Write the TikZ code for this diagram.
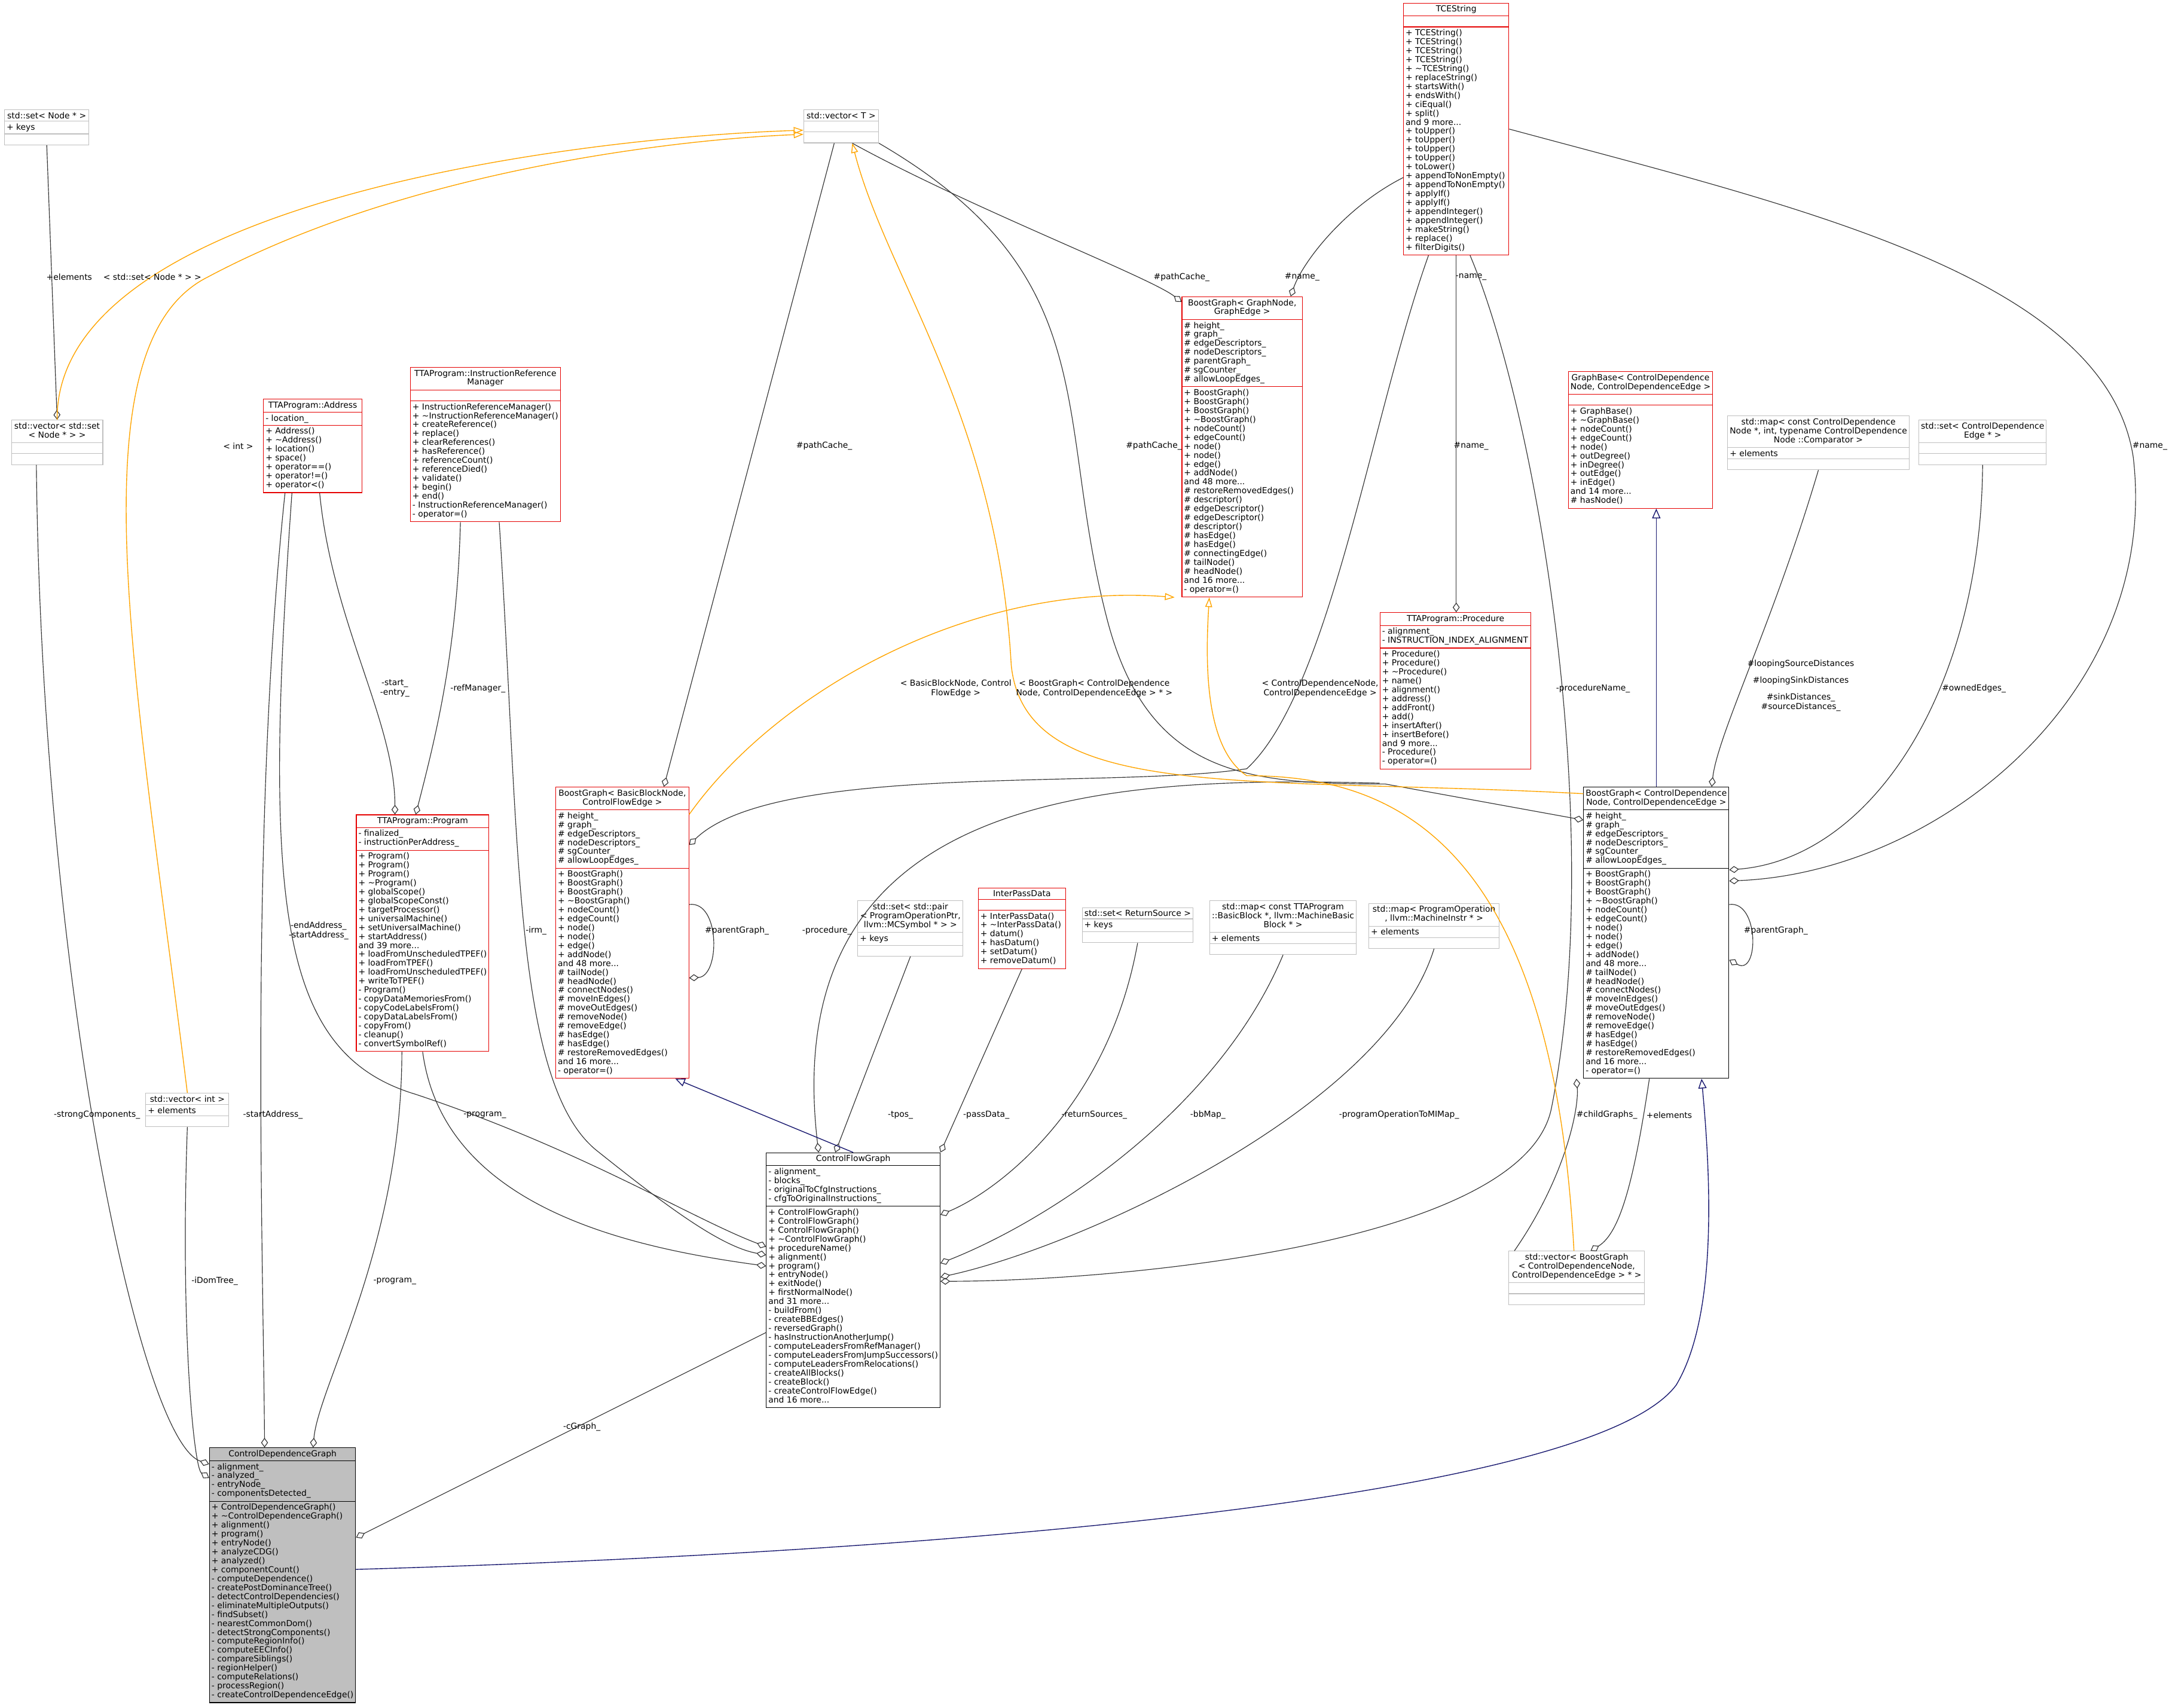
\documentclass[tikz,border=0pt]{standalone}
\usepackage{fontspec}
\setmainfont{DejaVu Sans}
\usetikzlibrary{shapes.multipart,arrows.meta}
\definecolor{dred}{HTML}{E50000}
\definecolor{dgray}{HTML}{BFBFBF}
\definecolor{dorange}{HTML}{FFA500}
\definecolor{dblue}{HTML}{191970}
\newcommand\Ls[1]{\begin{tabular}{@{}l@{}}#1\end{tabular}}
\newcommand\Cs[1]{\begin{tabular}{@{}c@{}}#1\end{tabular}}
\newcommand\tl{\textasciitilde}
\renewcommand\arraystretch{0.9}
\tikzset{
 cls/.style={rectangle split,rectangle split parts=3,draw=dred,fill=white,anchor=north west,
   font=\fontsize{6}{7}\selectfont,inner sep=1.5pt,rectangle split part align={center,left,left},line width=0.5pt},
 gcls/.style={cls,draw=dgray},
 bcls/.style={cls,draw=black},
 lbl/.style={font=\fontsize{6}{7}\selectfont,inner sep=1pt,align=center},
 agg/.style={draw=black!80,line width=0.5pt,-{Diamond[open,length=7pt,width=5pt]}},
 tmpl/.style={draw=dorange,line width=0.6pt,-{Triangle[open,length=7pt,width=5pt]}},
 inh/.style={draw=dblue,line width=0.6pt,-{Triangle[open,length=7pt,width=6pt]}},
}
\newcommand\E{\phantom{X}}
\begin{document}
\begin{tikzpicture}[x=1pt,y=-1pt]
\useasboundingbox[fill=white] (0,0) rectangle (1568,1233);

\node[cls,minimum width=76pt] (tce) at (1013,2) {TCEString\nodepart{two}\E\nodepart{three}\Ls{+ TCEString()\\+ TCEString()\\+ TCEString()\\+ TCEString()\\+ \tl TCEString()\\+ replaceString()\\+ startsWith()\\+ endsWith()\\+ ciEqual()\\+ split()\\and 9 more...\\+ toUpper()\\+ toUpper()\\+ toUpper()\\+ toUpper()\\+ toLower()\\+ appendToNonEmpty()\\+ appendToNonEmpty()\\+ applyIf()\\+ applyIf()\\+ appendInteger()\\+ appendInteger()\\+ makeString()\\+ replace()\\+ filterDigits()}};

\node[gcls,minimum width=54pt] (vt) at (580,79) {std::vector< T >\nodepart{two}\E\nodepart{three}\E};
\node[gcls,minimum width=61pt] (setn) at (3,79) {std::set< Node * >\nodepart{two}+ keys\nodepart{three}\E};
\node[gcls,minimum width=66pt] (vset) at (8,303) {\Cs{std::vector< std::set\\< Node * > >}\nodepart{two}\E\nodepart{three}\E};
\node[cls,minimum width=71pt] (addr) at (190,288) {TTAProgram::Address\nodepart{two}- location\_\nodepart{three}\Ls{+ Address()\\+ \tl Address()\\+ location()\\+ space()\\+ operator==()\\+ operator!=()\\+ operator<()}};
\node[cls,minimum width=107pt] (irm) at (296,265) {\Cs{TTAProgram::InstructionReference\\Manager}\nodepart{two}\E\nodepart{three}\Ls{+ InstructionReferenceManager()\\+ \tl InstructionReferenceManager()\\+ createReference()\\+ replace()\\+ clearReferences()\\+ hasReference()\\+ referenceCount()\\+ referenceDied()\\+ validate()\\+ begin()\\+ end()\\- InstructionReferenceManager()\\- operator=()}};
\node[cls,minimum width=87pt] (bgg) at (853,214) {\Cs{BoostGraph< GraphNode,\\GraphEdge >}\nodepart{two}\Ls{\# height\_\\\# graph\_\\\# edgeDescriptors\_\\\# nodeDescriptors\_\\\# parentGraph\_\\\# sgCounter\_\\\# allowLoopEdges\_}\nodepart{three}\Ls{+ BoostGraph()\\+ BoostGraph()\\+ BoostGraph()\\+ \tl BoostGraph()\\+ nodeCount()\\+ edgeCount()\\+ node()\\+ node()\\+ edge()\\+ addNode()\\and 48 more...\\\# restoreRemovedEdges()\\\# descriptor()\\\# edgeDescriptor()\\\# edgeDescriptor()\\\# descriptor()\\\# hasEdge()\\\# hasEdge()\\\# connectingEdge()\\\# tailNode()\\\# headNode()\\and 16 more...\\- operator=()}};
\node[cls,minimum width=103pt] (gb) at (1132,268) {\Cs{GraphBase< ControlDependence\\Node, ControlDependenceEdge >}\nodepart{two}\E\nodepart{three}\Ls{+ GraphBase()\\+ \tl GraphBase()\\+ nodeCount()\\+ edgeCount()\\+ node()\\+ outDegree()\\+ inDegree()\\+ outEdge()\\+ inEdge()\\and 14 more...\\\# hasNode()}};
\node[gcls,minimum width=127pt] (mapi) at (1247,300) {\Cs{std::map< const ControlDependence\\Node *, int, typename ControlDependence\\Node ::Comparator >}\nodepart{two}+ elements\nodepart{three}\E};
\node[gcls,minimum width=91pt] (sete) at (1385,303) {\Cs{std::set< ControlDependence\\Edge * >}\nodepart{two}\E\nodepart{three}\E};
\node[cls,minimum width=109pt] (proc) at (996,442) {TTAProgram::Procedure\nodepart{two}\Ls{- alignment\_\\- INSTRUCTION\_INDEX\_ALIGNMENT}\nodepart{three}\Ls{+ Procedure()\\+ Procedure()\\+ \tl Procedure()\\+ name()\\+ alignment()\\+ address()\\+ addFront()\\+ add()\\+ insertAfter()\\+ insertBefore()\\and 9 more...\\- Procedure()\\- operator=()}};
\node[cls,minimum width=95pt] (prog) at (257,588) {TTAProgram::Program\nodepart{two}\Ls{- finalized\_\\- instructionPerAddress\_}\nodepart{three}\Ls{+ Program()\\+ Program()\\+ Program()\\+ \tl Program()\\+ globalScope()\\+ globalScopeConst()\\+ targetProcessor()\\+ universalMachine()\\+ setUniversalMachine()\\+ startAddress()\\and 39 more...\\+ loadFromUnscheduledTPEF()\\+ loadFromTPEF()\\+ loadFromUnscheduledTPEF()\\+ writeToTPEF()\\- Program()\\- copyDataMemoriesFrom()\\- copyCodeLabelsFrom()\\- copyDataLabelsFrom()\\- copyFrom()\\- cleanup()\\- convertSymbolRef()}};
\node[cls,minimum width=96pt] (bbb) at (401,568) {\Cs{BoostGraph< BasicBlockNode,\\ControlFlowEdge >}\nodepart{two}\Ls{\# height\_\\\# graph\_\\\# edgeDescriptors\_\\\# nodeDescriptors\_\\\# sgCounter\_\\\# allowLoopEdges\_}\nodepart{three}\Ls{+ BoostGraph()\\+ BoostGraph()\\+ BoostGraph()\\+ \tl BoostGraph()\\+ nodeCount()\\+ edgeCount()\\+ node()\\+ node()\\+ edge()\\+ addNode()\\and 48 more...\\\# tailNode()\\\# headNode()\\\# connectNodes()\\\# moveInEdges()\\\# moveOutEdges()\\\# removeNode()\\\# removeEdge()\\\# hasEdge()\\\# hasEdge()\\\# restoreRemovedEdges()\\and 16 more...\\- operator=()}};
\node[gcls,minimum width=76pt] (setp) at (619,650) {\Cs{std::set< std::pair\\< ProgramOperationPtr,\\llvm::MCSymbol * > >}\nodepart{two}+ keys\nodepart{three}\E};
\node[cls,minimum width=63pt] (ipd) at (706,641) {InterPassData\nodepart{two}\E\nodepart{three}\Ls{+ InterPassData()\\+ \tl InterPassData()\\+ datum()\\+ hasDatum()\\+ setDatum()\\+ removeDatum()}};
\node[gcls,minimum width=80pt] (setr) at (781,655) {std::set< ReturnSource >\nodepart{two}+ keys\nodepart{three}\E};
\node[gcls,minimum width=106pt] (mapb) at (873,650) {\Cs{std::map< const TTAProgram\\::BasicBlock *, llvm::MachineBasic\\Block * >}\nodepart{two}+ elements\nodepart{three}\E};
\node[gcls,minimum width=94pt] (mapp) at (988,652) {\Cs{std::map< ProgramOperation\\*, llvm::MachineInstr * >}\nodepart{two}+ elements\nodepart{three}\E};
\node[bcls,minimum width=104pt] (bgc) at (1143,568) {\Cs{BoostGraph< ControlDependence\\Node, ControlDependenceEdge >}\nodepart{two}\Ls{\# height\_\\\# graph\_\\\# edgeDescriptors\_\\\# nodeDescriptors\_\\\# sgCounter\_\\\# allowLoopEdges\_}\nodepart{three}\Ls{+ BoostGraph()\\+ BoostGraph()\\+ BoostGraph()\\+ \tl BoostGraph()\\+ nodeCount()\\+ edgeCount()\\+ node()\\+ node()\\+ edge()\\+ addNode()\\and 48 more...\\\# tailNode()\\\# headNode()\\\# connectNodes()\\\# moveInEdges()\\\# moveOutEdges()\\\# removeNode()\\\# removeEdge()\\\# hasEdge()\\\# hasEdge()\\\# restoreRemovedEdges()\\and 16 more...\\- operator=()}};
\node[gcls,minimum width=60pt] (vint) at (105,789) {std::vector< int >\nodepart{two}+ elements\nodepart{three}\E};
\node[bcls,minimum width=124pt] (cfg) at (553,832) {ControlFlowGraph\nodepart{two}\Ls{- alignment\_\\- blocks\_\\- originalToCfgInstructions\_\\- cfgToOriginalInstructions\_}\nodepart{three}\Ls{+ ControlFlowGraph()\\+ ControlFlowGraph()\\+ ControlFlowGraph()\\+ \tl ControlFlowGraph()\\+ procedureName()\\+ alignment()\\+ program()\\+ entryNode()\\+ exitNode()\\+ firstNormalNode()\\and 31 more...\\- buildFrom()\\- createBBEdges()\\- reversedGraph()\\- hasInstructionAnotherJump()\\- computeLeadersFromRefManager()\\- computeLeadersFromJumpSuccessors()\\- computeLeadersFromRelocations()\\- createAllBlocks()\\- createBlock()\\- createControlFlowEdge()\\and 16 more...}};
\node[gcls,minimum width=98pt] (vbg) at (1089,903) {\Cs{std::vector< BoostGraph\\< ControlDependenceNode,\\ControlDependenceEdge > * >}\nodepart{two}\E\nodepart{three}\E};
\node[bcls,fill=dgray,minimum width=105pt] (cdg) at (151,1045) {ControlDependenceGraph\nodepart{two}\Ls{- alignment\_\\- analyzed\_\\- entryNode\_\\- componentsDetected\_}\nodepart{three}\Ls{+ ControlDependenceGraph()\\+ \tl ControlDependenceGraph()\\+ alignment()\\+ program()\\+ entryNode()\\+ analyzeCDG()\\+ analyzed()\\+ componentCount()\\- computeDependence()\\- createPostDominanceTree()\\- detectControlDependencies()\\- eliminateMultipleOutputs()\\- findSubset()\\- nearestCommonDom()\\- detectStrongComponents()\\- computeRegionInfo()\\- computeEECInfo()\\- compareSiblings()\\- regionHelper()\\- computeRelations()\\- processRegion()\\- createControlDependenceEdge()}};

% aggregation edges
\draw[agg] (setn.south) -- (vset.north);
\node[lbl] at (50,200) {+elements};
\draw[agg] ([xshift=-15pt]vset.south) .. controls (30,700) and (100,1040) .. ([yshift=-12pt]cdg.north west);
\node[lbl] at (70,805) {-strongComponents\_};
\draw[agg] (vint.south) .. controls (130,960) and (140,1060) .. ([yshift=-22pt]cdg.north west);
\node[lbl] at (155,925) {-iDomTree\_};
\draw[agg] ([xshift=-20pt]addr.south) .. controls (180,600) and (190,900) .. ([xshift=40pt]cdg.north west);
\node[lbl] at (197,805) {-startAddress\_};
\draw[agg] ([xshift=5pt]addr.south) .. controls (240,450) and (285,520) .. ([xshift=-20pt]prog.north);
\node[lbl] at (285,497) {-start\_\\-entry\_};
\draw[agg] ([xshift=-15pt]addr.south) .. controls (190,650) and (200,760) .. (300,790) .. controls (420,830) and (500,880) .. ([yshift=-68pt]cfg.north west);
\node[lbl] at (230,672) {-endAddress\_\\-startAddress\_};
\draw[agg] ([xshift=-18pt]irm.south) .. controls (330,470) and (315,530) .. ([xshift=-5pt]prog.north);
\node[lbl] at (345,497) {-refManager\_};
\draw[agg] ([xshift=10pt]irm.south) .. controls (375,600) and (370,780) .. (430,830) .. controls (480,870) and (520,900) .. ([yshift=-74pt]cfg.north west);
\node[lbl] at (387,672) {-irm\_};
\draw[agg] ([xshift=-15pt]prog.south) .. controls (290,900) and (230,1000) .. ([xshift=75pt]cdg.north west);
\node[lbl] at (285,925) {-program\_};
\draw[agg] (prog.south) .. controls (320,870) and (450,900) .. ([yshift=-82pt]cfg.north west);
\node[lbl] at (350,805) {-program\_};
\draw[agg] ([xshift=-5pt]vt.south) -- ([xshift=30pt]bbb.north);
\node[lbl] at (595,322) {\#pathCache\_};
\draw[agg] ([xshift=8pt]vt.south) .. controls (700,150) and (830,200) .. ([yshift=-4pt]bgg.north west);
\node[lbl] at (853,200) {\#pathCache\_};
\draw[agg] (vt.south east) .. controls (800,200) and (760,300) .. (800,450) .. controls (830,560) and (900,566) .. (1000,566) -- ([yshift=-24pt]bgc.north west);
\node[lbl] at (833,322) {\#pathCache\_};
\draw[agg] ([yshift=-35pt]tce.west) .. controls (970,150) and (940,190) .. ([xshift=35pt]bgg.north);
\node[lbl] at (940,200) {\#name\_};
\draw[agg] (tce.south) -- (tce.south |- proc.north);
\node[lbl] at (1062,200) {-name\_};
\node[lbl] at (1062,322) {\#name\_};
\draw[agg] ([xshift=-20pt]tce.south) .. controls (990,300) and (960,500) .. (900,555) .. controls (800,570) and (560,550) .. ([yshift=-42pt]bbb.north east);
\draw[agg] (tce.east) .. controls (1300,150) and (1520,200) .. (1540,330) .. controls (1560,500) and (1400,630) .. ([yshift=-68pt]bgc.north east);
\node[lbl] at (1552,322) {\#name\_};
\draw[agg] ([xshift=10pt]tce.south) .. controls (1110,300) and (1160,600) .. (1120,800) .. controls (1100,900) and (800,925) .. ([yshift=-93pt]cfg.north east);
\node[lbl] at (1150,497) {-procedureName\_};
\draw[agg] ([yshift=-10pt]proc.south west) .. controls (800,560) and (560,570) .. ([xshift=-25pt]cfg.north);
\node[lbl] at (597,672) {-procedure\_};
\draw[agg] ([yshift=-85pt]bbb.north east) .. controls (520,650) and (520,705) .. ([yshift=-138pt]bbb.north east);
\node[lbl] at (532,672) {\#parentGraph\_};
\draw[agg] ([yshift=-85pt]bgc.north east) .. controls (1270,650) and (1270,705) .. ([yshift=-125pt]bgc.north east);
\node[lbl] at (1282,672) {\#parentGraph\_};
\draw[agg] (setp.south) -- ([xshift=50pt]cfg.north west);
\node[lbl] at (650,805) {-tpos\_};
\draw[agg] (ipd.south) -- (cfg.north east);
\node[lbl] at (712,805) {-passData\_};
\draw[agg] (setr.south) .. controls (800,800) and (720,860) .. ([yshift=-45pt]cfg.north east);
\node[lbl] at (790,805) {-returnSources\_};
\draw[agg] (mapb.south) .. controls (880,800) and (760,880) .. ([yshift=-80pt]cfg.north east);
\node[lbl] at (872,805) {-bbMap\_};
\draw[agg] (mapp.south) .. controls (1000,800) and (780,900) .. ([yshift=-90pt]cfg.north east);
\node[lbl] at (1010,805) {-programOperationToMIMap\_};
\draw[agg] ([yshift=-130pt]cfg.north west) -- ([yshift=-65pt]cdg.north east);
\node[lbl] at (420,1030) {-cGraph\_};
\draw[agg] (mapi.south) .. controls (1280,450) and (1240,530) .. ([xshift=40pt]bgc.north);
\node[lbl] at (1300,495) {\#loopingSourceDistances\\[5pt]\#loopingSinkDistances\\[5pt]\#sinkDistances\_\\\#sourceDistances\_};
\draw[agg] (sete.south) .. controls (1430,500) and (1350,620) .. ([yshift=-60pt]bgc.north east);
\node[lbl] at (1425,497) {\#ownedEdges\_};
\draw[agg] ([xshift=-45pt]vbg.north) .. controls (1130,850) and (1140,800) .. ([xshift=-5pt]bgc.south west);
\node[lbl] at (1160,805) {\#childGraphs\_};
\draw[agg] ([xshift=-5pt]bgc.south) .. controls (1180,850) and (1170,890) .. ([xshift=10pt]vbg.north);
\node[lbl] at (1205,805) {+elements};

% template edges
\draw[tmpl] (vset.north) .. controls (40,150) and (400,100) .. ([yshift=-15pt]vt.north west);
\node[lbl] at (110,200) {< std::set< Node * > >};
\draw[tmpl] (vint.north) .. controls (100,500) and (50,250) .. (150,200) .. controls (300,120) and (500,100) .. ([yshift=-18pt]vt.north west);
\node[lbl] at (172,322) {< int >};
\draw[tmpl] ([yshift=-20pt]bbb.north east) .. controls (560,500) and (700,420) .. ([xshift=-5pt]bgg.south west);
\node[lbl] at (690,497) {< BasicBlockNode, Control\\FlowEdge >};
\draw[tmpl] ([yshift=-5pt]bgc.north west) .. controls (900,560) and (740,580) .. (730,480) .. controls (720,300) and (640,200) .. ([xshift=8pt]vt.south);
\node[lbl] at (790,497) {< BoostGraph< ControlDependence\\Node, ControlDependenceEdge > * >};
\draw[tmpl] ([xshift=-2pt]vbg.north) .. controls (1120,600) and (1000,560) .. (900,560) .. controls (870,540) and (870,480) .. ([xshift=20pt]bgg.south west);
\node[lbl] at (953,497) {< ControlDependenceNode,\\ControlDependenceEdge >};

% inheritance
\draw[inh] (cfg.north) -- ([xshift=-10pt]bbb.south east);
\draw[inh] (bgc.north) -- (bgc.north |- gb.south);
\draw[inh] ([yshift=-88pt]cdg.north east) .. controls (700,1120) and (1150,1080) .. (1210,1000) .. controls (1240,950) and (1235,850) .. ([xshift=-20pt]bgc.south east);
\end{tikzpicture}
\end{document}
